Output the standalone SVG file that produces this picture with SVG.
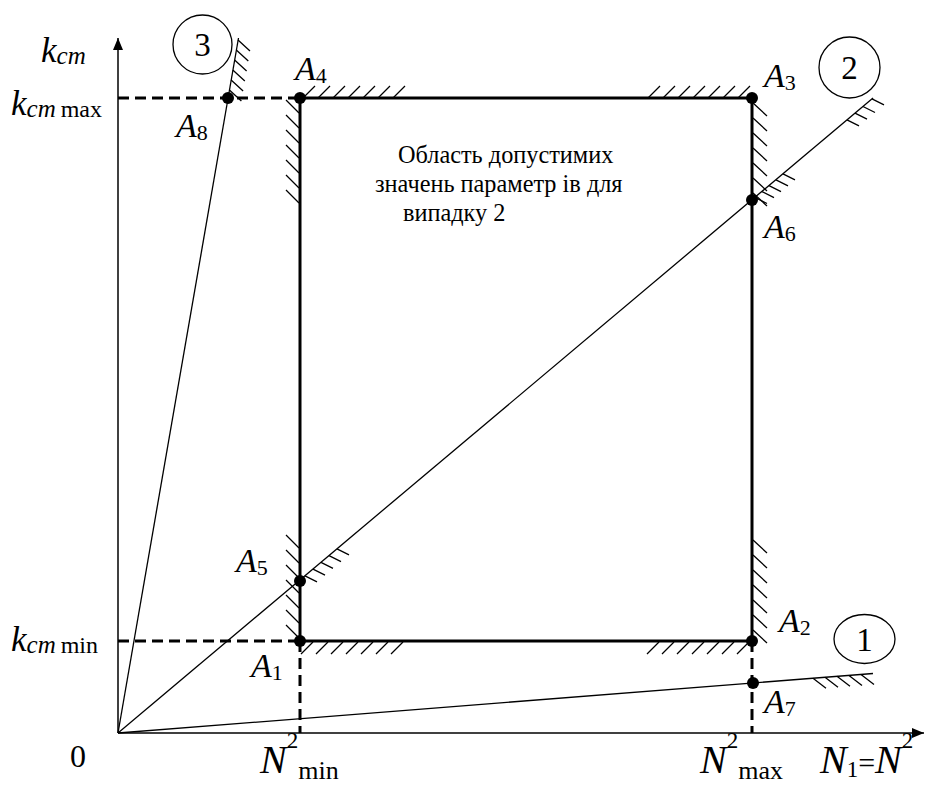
<svg xmlns="http://www.w3.org/2000/svg" width="925" height="785" viewBox="0 0 925 785">
<style>
text{font-family:"Liberation Serif","Times New Roman",serif;fill:#000}
.it{font-style:italic}
.thin{fill:none;stroke:#000;stroke-width:1.3}
.axis{fill:none;stroke:#000;stroke-width:1.5}
.edge{fill:none;stroke:#000;stroke-width:3}
.dash{fill:none;stroke:#000;stroke-width:3;stroke-dasharray:11 6}
.hatch{fill:none;stroke:#000;stroke-width:1.3}
.dot{fill:#000}
.ring{fill:none;stroke:#000;stroke-width:1.3}
.A{font-style:italic;font-size:34px}
.sub{font-size:22px}
</style>
<defs>
<marker id="arr" viewBox="0 0 12 10" refX="12" refY="5" markerWidth="12" markerHeight="10" markerUnits="userSpaceOnUse" orient="auto">
<path d="M0,0 L12,5 L0,10 Z" fill="#000"/>
</marker>
</defs>
<rect width="925" height="785" fill="#fff"/>

<g id="connectors">
  <line class="axis" x1="118" y1="733" x2="118" y2="38" marker-end="url(#arr)"/>
  <line class="axis" x1="118" y1="733" x2="924" y2="733" marker-end="url(#arr)"/>
  <line class="thin" x1="118" y1="733" x2="238.5" y2="38"/>
  <line class="thin" x1="118" y1="733" x2="873" y2="98"/>
  <line class="thin" x1="118" y1="733" x2="873" y2="673.5"/>
  <line class="dash" x1="118" y1="98" x2="300" y2="98"/>
  <line class="dash" x1="118" y1="641" x2="300" y2="641"/>
  <line class="dash" x1="300" y1="641" x2="300" y2="733"/>
  <line class="dash" x1="752" y1="641" x2="752" y2="733"/>
  <path class="edge" d="M300,98 L752,98 L752,641 L300,641 Z"/>
  <path class="hatch" d="M303,98 l12,-12 M318,98 l12,-12 M333,98 l12,-12 M348,98 l12,-12 M363,98 l12,-12 M378,98 l12,-12 M393,98 l12,-12"/>
  <path class="hatch" d="M648,98 l12,-12 M663,98 l12,-12 M678,98 l12,-12 M693,98 l12,-12 M708,98 l12,-12 M723,98 l12,-12 M738,98 l12,-12"/>
  <path class="hatch" d="M286,100 l13,13 M286,115 l13,13 M286,130 l13,13 M286,145 l13,13 M286,160 l13,13 M286,175 l13,13 M286,190 l13,13"/>
  <path class="hatch" d="M753,103 l14,13 M753,118 l14,13 M753,133 l14,13 M753,148 l14,13 M753,163 l14,13 M753,178 l14,13 M753,193 l14,13"/>
  <path class="hatch" d="M286,535 l13,13 M286,550 l13,13 M286,565 l13,13 M286,580 l13,13 M286,595 l13,13 M286,610 l13,13 M286,625 l13,13"/>
  <path class="hatch" d="M753,540 l14,13 M753,555 l14,13 M753,570 l14,13 M753,585 l14,13 M753,600 l14,13 M753,615 l14,13 M753,630 l14,13"/>
  <path class="hatch" d="M301,654 l12,-12 M316,654 l12,-12 M331,654 l12,-12 M346,654 l12,-12 M361,654 l12,-12 M376,654 l12,-12 M391,654 l12,-12"/>
  <path class="hatch" d="M647,654 l12,-12 M662,654 l12,-12 M677,654 l12,-12 M692,654 l12,-12 M707,654 l12,-12 M722,654 l12,-12 M737,654 l12,-12"/>
  <path class="hatch" d="M238,40 l12,11 M236.3,50 l12,11 M234.6,60 l12,11 M232.8,70 l12,11 M231.1,80 l12,11 M229.4,90 l12,11"/>
  <path class="hatch" d="M305,575.8 l12,6 M313,569.1 l12,6 M321,562.3 l12,6 M329,555.6 l12,6 M337,548.9 l12,6"/>
  <path class="hatch" d="M755,197.5 l12,6 M762,191.6 l12,6 M769,185.7 l12,6 M776,179.8 l12,6 M783,173.9 l12,6"/>
  <path class="hatch" d="M847,119.9 l12,6 M855,113.2 l12,6 M863,106.5 l12,6 M872,98.9 l12,6"/>
  <path class="hatch" d="M813,678.2 l13,10 M825,677.2 l13,10 M837,676.3 l13,10 M849,675.4 l13,10 M861,674.5 l13,10"/>
</g>

<g id="A1"><circle class="dot" cx="300" cy="641" r="6"/><text x="251" y="677"><tspan class="A">A</tspan><tspan class="sub" dy="3">1</tspan></text></g>
<g id="A2"><circle class="dot" cx="752" cy="641" r="6"/><text x="779" y="632"><tspan class="A">A</tspan><tspan class="sub" dy="3">2</tspan></text></g>
<g id="A3"><circle class="dot" cx="752" cy="98" r="6"/><text x="764" y="87"><tspan class="A">A</tspan><tspan class="sub" dy="3">3</tspan></text></g>
<g id="A4"><circle class="dot" cx="300" cy="98" r="6"/><text x="295" y="80"><tspan class="A">A</tspan><tspan class="sub" dy="3">4</tspan></text></g>
<g id="A5"><circle class="dot" cx="300" cy="581" r="6"/><text x="236" y="572"><tspan class="A">A</tspan><tspan class="sub" dy="3">5</tspan></text></g>
<g id="A6"><circle class="dot" cx="752" cy="200" r="6"/><text x="764" y="238"><tspan class="A">A</tspan><tspan class="sub" dy="3">6</tspan></text></g>
<g id="A7"><circle class="dot" cx="753" cy="683" r="6"/><text x="764" y="713"><tspan class="A">A</tspan><tspan class="sub" dy="3">7</tspan></text></g>
<g id="A8"><circle class="dot" cx="228" cy="98" r="6"/><text x="176" y="137"><tspan class="A">A</tspan><tspan class="sub" dy="3">8</tspan></text></g>

<g id="case3"><circle class="ring" cx="202.5" cy="44.5" r="29.5"/><text x="202.5" y="56" font-size="33" text-anchor="middle">3</text></g>
<g id="case2"><circle class="ring" cx="849.5" cy="67.5" r="30.5"/><text x="849.5" y="79" font-size="33" text-anchor="middle">2</text></g>
<g id="case1"><ellipse class="ring" cx="864.5" cy="639" rx="30.5" ry="24.5"/><text x="864.5" y="650.5" font-size="33" text-anchor="middle">1</text></g>

<g id="region-label" font-size="24.3">
  <text x="398" y="163">Область допустимих</text>
  <text x="375" y="192">значень параметр ів для</text>
  <text x="403" y="221">випадку 2</text>
</g>

<g id="axis-labels">
  <text x="41" y="62"><tspan class="it" font-size="35">k</tspan><tspan class="it" font-size="25" dy="2">cm</tspan></text>
  <text x="11" y="115"><tspan class="it" font-size="35">k</tspan><tspan class="it" font-size="25" dy="2">cm</tspan><tspan font-size="24" dx="5">max</tspan></text>
  <text x="11" y="651"><tspan class="it" font-size="35">k</tspan><tspan class="it" font-size="25" dy="2">cm</tspan><tspan font-size="24" dx="5">min</tspan></text>
  <text x="70" y="767" font-size="32">0</text>
  <text x="260" y="773"><tspan class="it" font-size="40">N</tspan><tspan font-size="23" dy="-25">2</tspan><tspan font-size="26" dy="31">min</tspan></text>
  <text x="700" y="773"><tspan class="it" font-size="40">N</tspan><tspan font-size="23" dy="-25">2</tspan><tspan font-size="26" dy="31">max</tspan></text>
  <text x="820" y="773"><tspan class="it" font-size="40">N</tspan><tspan font-size="23" dy="4">1</tspan><tspan font-size="30" dy="-4">=</tspan><tspan class="it" font-size="40">N</tspan><tspan font-size="23" dy="-25">2</tspan></text>
</g>
</svg>
